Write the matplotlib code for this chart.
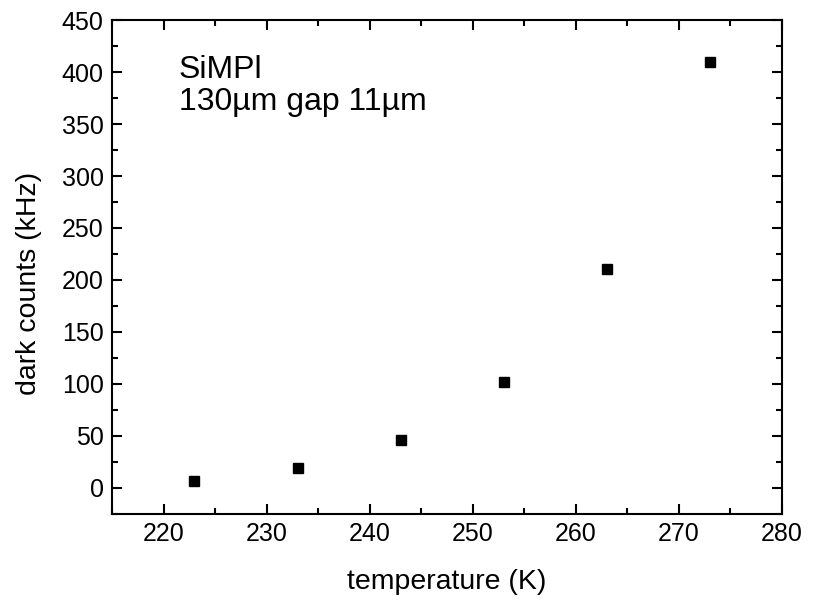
import matplotlib
matplotlib.use('Agg')
import matplotlib.pyplot as plt
from matplotlib.ticker import MultipleLocator

plt.rcParams['font.family'] = ['Liberation Sans', 'DejaVu Sans']

temperature = [223, 233, 243, 253, 263, 273]
dark_counts = [7, 19, 46, 102, 211, 410]

fig = plt.figure(figsize=(8.21, 6.01), dpi=100)
ax = fig.add_axes([0.1364, 0.1448, 0.8161, 0.8219])

ax.plot(temperature, dark_counts, 's', color='black', markersize=7.5, linestyle='none')

ax.set_xlim(215, 280)
ax.set_ylim(-25, 450)
ax.xaxis.set_major_locator(MultipleLocator(10))
ax.xaxis.set_minor_locator(MultipleLocator(5))
ax.yaxis.set_major_locator(MultipleLocator(50))
ax.yaxis.set_minor_locator(MultipleLocator(25))

for s in ax.spines.values():
    s.set_linewidth(1.5)
ax.tick_params(which='both', direction='in', top=True, right=True, width=1.5, labelsize=18)
ax.tick_params(which='major', length=7, pad=6)
ax.tick_params(which='minor', length=4)

ax.set_xlabel('temperature (K)', fontsize=20.5, labelpad=16)
ax.set_ylabel('dark counts (kHz)', fontsize=20.5)
ax.yaxis.set_label_coords(-0.104, 0.466)

ax.text(0.1, 0.93, 'SiMPl\n130µm gap 11µm', transform=ax.transAxes,
        fontsize=23, va='top', ha='left', linespacing=1.1)

fig.savefig('out.png', dpi=100)
